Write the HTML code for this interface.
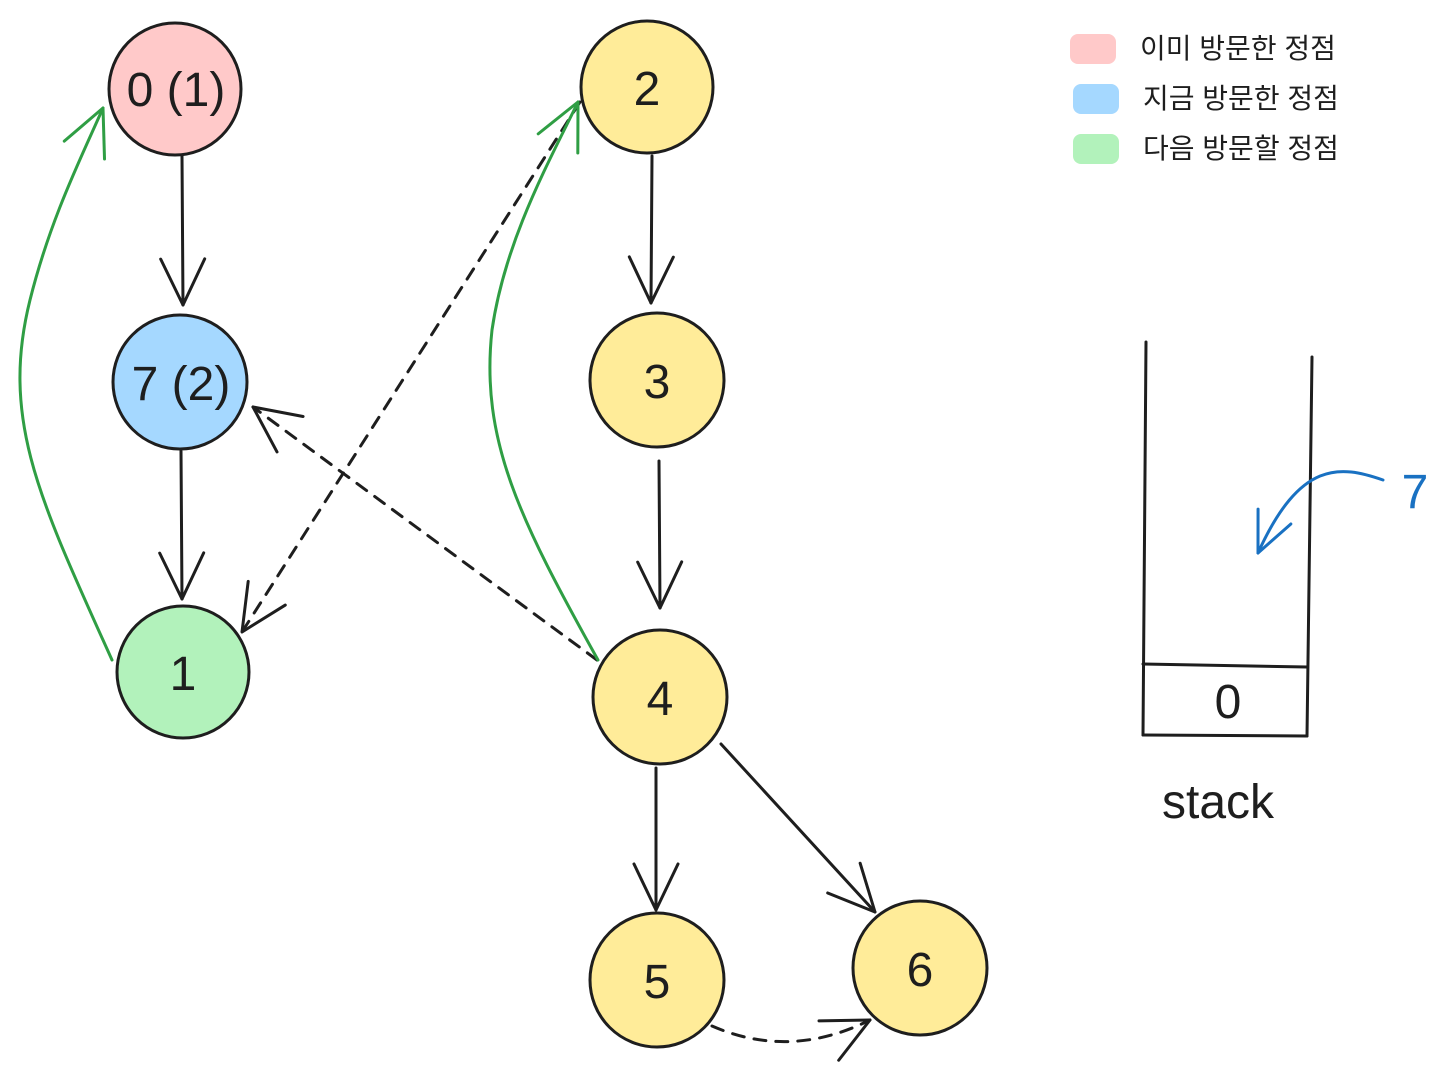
<!DOCTYPE html>
<html><head><meta charset="utf-8"><style>
html,body{margin:0;padding:0;background:#fff;}
svg{display:block;}
text{font-family:"Liberation Sans","Noto Sans CJK KR",sans-serif;fill:#1e1e1e;}
</style></head><body>
<svg width="1452" height="1068" viewBox="0 0 1452 1068" xmlns="http://www.w3.org/2000/svg">
<defs>
<marker id="ah" markerUnits="userSpaceOnUse" markerWidth="60" markerHeight="60" refX="0" refY="0" orient="auto" viewBox="-50 -30 60 60" overflow="visible">
<path d="M-46,-22 L0,0 L-46,22" fill="none" stroke="#1e1e1e" stroke-width="3" stroke-linecap="round" stroke-linejoin="round"/>
</marker>
<marker id="ahg" markerUnits="userSpaceOnUse" markerWidth="60" markerHeight="60" refX="0" refY="0" orient="auto" viewBox="-50 -30 60 60" overflow="visible">
<path d="M-46,-22 L0,0 L-46,22" fill="none" stroke="#2f9e44" stroke-width="3" stroke-linecap="round" stroke-linejoin="round"/>
</marker>
<marker id="ahb" markerUnits="userSpaceOnUse" markerWidth="60" markerHeight="60" refX="0" refY="0" orient="auto" viewBox="-50 -30 60 60" overflow="visible">
<path d="M-40,-18 L0,0 L-40,18" fill="none" stroke="#1971c2" stroke-width="3" stroke-linecap="round" stroke-linejoin="round"/>
</marker>
</defs>

<!-- legend -->
<rect x="1070" y="34" width="46" height="30" rx="8" fill="#ffc9c9"/>
<rect x="1073" y="84" width="46" height="30" rx="8" fill="#a5d8ff"/>
<rect x="1073" y="134" width="46" height="30" rx="8" fill="#b2f2bb"/>
<text x="1140" y="58" font-size="28">이미 방문한 정점</text>
<text x="1143" y="108" font-size="28">지금 방문한 정점</text>
<text x="1143" y="158" font-size="28">다음 방문할 정점</text>

<!-- edges -->
<g stroke="#1e1e1e" stroke-width="3" fill="none" stroke-linecap="round">
<line x1="182" y1="156" x2="183" y2="305" marker-end="url(#ah)"/>
<line x1="181" y1="451" x2="182" y2="599" marker-end="url(#ah)"/>
<line x1="652" y1="156" x2="651" y2="303" marker-end="url(#ah)"/>
<line x1="659" y1="461" x2="660" y2="608" marker-end="url(#ah)"/>
<line x1="656" y1="768" x2="656" y2="910" marker-end="url(#ah)"/>
<line x1="721" y1="744" x2="875" y2="912" marker-end="url(#ah)"/>
<line x1="597" y1="660" x2="253" y2="407" stroke-dasharray="12 10" marker-end="url(#ah)"/>
<line x1="580" y1="102" x2="242" y2="632" stroke-dasharray="12 10" marker-end="url(#ah)"/>
<path d="M712,1026 Q790,1060 870,1020" stroke-dasharray="12 10" marker-end="url(#ah)"/>
</g>
<g stroke="#2f9e44" stroke-width="3" fill="none" stroke-linecap="round">
<path d="M112,660 C40,500 0,420 30,300 C50,220 80,160 103,108" marker-end="url(#ahg)"/>
<path d="M598,660 C520,520 480,440 492,330 C505,240 550,160 578,102" marker-end="url(#ahg)"/>
</g>

<!-- nodes -->
<g stroke="#1e1e1e" stroke-width="3">
<circle cx="175" cy="89" r="66" fill="#ffc9c9"/>
<circle cx="180" cy="382" r="67" fill="#a5d8ff"/>
<circle cx="183" cy="672" r="66" fill="#b2f2bb"/>
<circle cx="647" cy="87" r="66" fill="#ffec99"/>
<circle cx="657" cy="380" r="67" fill="#ffec99"/>
<circle cx="660" cy="697" r="67" fill="#ffec99"/>
<circle cx="657" cy="980" r="67" fill="#ffec99"/>
<circle cx="920" cy="968" r="67" fill="#ffec99"/>
</g>
<g font-size="48" text-anchor="middle">
<text x="176" y="106">0 (1)</text>
<text x="181" y="400">7 (2)</text>
<text x="183" y="690">1</text>
<text x="647" y="105">2</text>
<text x="657" y="398">3</text>
<text x="660" y="715">4</text>
<text x="657" y="998">5</text>
<text x="920" y="986">6</text>
</g>

<!-- stack -->
<g stroke="#1e1e1e" stroke-width="3" fill="none" stroke-linecap="round">
<line x1="1146" y1="342" x2="1143" y2="735"/>
<line x1="1312" y1="357" x2="1307" y2="736"/>
<line x1="1143" y1="735" x2="1307" y2="736"/>
<line x1="1143" y1="664" x2="1307" y2="667"/>
</g>
<text x="1228" y="718" font-size="48" text-anchor="middle">0</text>
<text x="1218" y="818" font-size="48" text-anchor="middle">stack</text>
<path d="M1383,480 C1340,465 1300,460 1258,553" stroke="#1971c2" stroke-width="3" fill="none" stroke-linecap="round" marker-end="url(#ahb)"/>
<text x="1415" y="508" font-size="48" text-anchor="middle" style="fill:#1971c2">7</text>
</svg>
</body></html>
